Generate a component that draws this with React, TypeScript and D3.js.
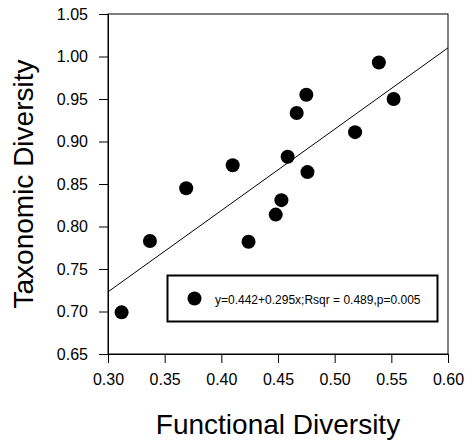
import React, { useRef, useEffect } from 'react';
import * as d3 from 'd3';

// values
const functionalDiv = [0.539, 0.552, 0.475, 0.4665, 0.518, 0.4585, 0.41, 0.476, 0.369, 0.453, 0.448, 0.337, 0.424, 0.312];
const taxonomicDiv = [0.993, 0.95, 0.955, 0.9335, 0.911, 0.882, 0.872, 0.864, 0.845, 0.831, 0.814, 0.783, 0.782, 0.699];
const xTicks = [0.3, 0.35, 0.4, 0.45, 0.5, 0.55, 0.6];
const yTicks = [0.65, 0.7, 0.75, 0.8, 0.85, 0.9, 0.95, 1.0, 1.05];
// fitted line as drawn in the picture
const fitIntercept = 0.436;
const fitSlope = 0.957;
const legendLabel = 'y=0.442+0.295x;Rsqr = 0.489,p=0.005';

const FONT = '"Liberation Sans", Arial, sans-serif';

export default function App() {
  const ref = useRef<SVGSVGElement>(null);
  const width = 468;
  const height = 441;
  const margin = { top: 14, right: 20, bottom: 87, left: 108 };

  useEffect(() => {
    const svg = d3.select(ref.current);
    svg.selectAll('*').remove();

    const innerW = width - margin.left - margin.right;
    const innerH = height - margin.top - margin.bottom;

    const x = d3.scaleLinear().domain([0.3, 0.6]).range([0, innerW]);
    const y = d3.scaleLinear().domain([0.65, 1.05]).range([innerH, 0]);

    const g = svg.append('g').attr('transform', `translate(${margin.left},${margin.top})`);

    // frame
    g.append('rect')
      .attr('width', innerW)
      .attr('height', innerH)
      .attr('fill', 'none')
      .attr('stroke', '#000')
      .attr('stroke-width', 1);

    const yAxis = g.append('g')
      .call(d3.axisLeft(y).tickValues(yTicks).tickFormat(d3.format('.2f')).tickSize(9).tickPadding(11).tickSizeOuter(0));
    const xAxis = g.append('g')
      .attr('transform', `translate(0,${innerH})`)
      .call(d3.axisBottom(x).tickValues(xTicks).tickFormat(d3.format('.2f')).tickSize(9).tickPadding(11).tickSizeOuter(0));

    [yAxis, xAxis].forEach(a => {
      a.attr('font-family', FONT).attr('font-size', 16);
      a.selectAll('text').attr('fill', '#000');
      a.selectAll('line, path').attr('stroke', '#000');
    });

    // regression line
    g.append('line')
      .attr('x1', x(0.3))
      .attr('y1', y(fitIntercept + fitSlope * 0.3))
      .attr('x2', x(0.6))
      .attr('y2', y(fitIntercept + fitSlope * 0.6))
      .attr('stroke', '#000')
      .attr('stroke-width', 1);

    g.selectAll('circle.pt')
      .data(functionalDiv.map((v, i) => [v, taxonomicDiv[i]]))
      .enter()
      .append('circle')
      .attr('class', 'pt')
      .attr('cx', d => x(d[0]))
      .attr('cy', d => y(d[1]))
      .attr('r', 7)
      .attr('fill', '#000');

    // legend
    const lg = svg.append('g').attr('transform', 'translate(167.5,275.5)');
    lg.append('rect')
      .attr('width', 270)
      .attr('height', 46)
      .attr('fill', '#fff')
      .attr('stroke', '#000')
      .attr('stroke-width', 2);
    lg.append('circle').attr('cx', 27).attr('cy', 23).attr('r', 7).attr('fill', '#000');
    lg.append('text')
      .attr('x', 47.5)
      .attr('y', 28)
      .attr('font-family', FONT)
      .attr('font-size', 12)
      .text(legendLabel);

    // axis titles
    svg.append('text')
      .attr('x', margin.left + innerW / 2)
      .attr('y', 434)
      .attr('text-anchor', 'middle')
      .attr('font-family', FONT)
      .attr('font-size', 28)
      .text('Functional Diversity');
    svg.append('text')
      .attr('transform', `translate(33,${margin.top + innerH / 2}) rotate(-90)`)
      .attr('text-anchor', 'middle')
      .attr('font-family', FONT)
      .attr('font-size', 28)
      .text('Taxonomic Diversity');
  }, []);

  return (
    <svg ref={ref} width={width} height={height}
      style={{ position: 'absolute', left: 0, top: 0, background: '#fff' }} />
  );
}
